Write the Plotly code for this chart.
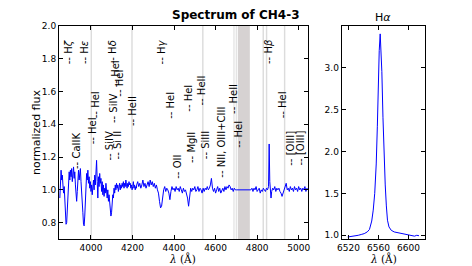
import plotly.graph_objects as go

# ---------------- data ----------------
wave_blue = [3850 + 3 * i for i in range(124)]
flux_blue = [0.95, 1.10, 1.12, 1.06, 1.09, 1.03, 0.98, 1.02, 0.92, 0.85,
             0.79, 0.80, 0.90, 1.02, 1.08, 1.11, 1.06, 1.12, 1.08, 1.13,
             1.05, 1.10, 1.14, 1.07, 1.11, 1.03, 0.96, 0.93, 0.99, 1.08,
             1.12, 1.06, 1.10, 1.13, 1.05, 1.00, 0.94, 0.86, 0.79, 0.78,
             0.84, 0.95, 1.05, 1.10, 1.06, 1.12, 1.04, 1.08, 1.01, 1.05,
             0.99, 1.03, 0.97, 1.02, 1.06, 1.00, 1.09, 1.03, 1.12, 1.18,
             1.05, 0.95, 1.08, 1.02, 1.10, 1.04, 1.07, 0.99, 1.05, 0.97,
             1.03, 0.96, 1.01, 0.98, 1.04, 0.99, 0.95, 1.00, 0.93, 0.97,
             0.90, 0.88, 0.84, 0.86, 0.92, 0.97, 0.95, 1.01, 0.98, 1.03,
             1.00, 1.04, 1.01, 1.03, 0.99, 1.02, 1.04, 1.00, 1.03, 1.01,
             1.04, 1.02, 1.05, 1.01, 1.04, 1.02, 1.06, 1.03, 1.01, 1.04,
             1.02, 1.05, 1.03, 1.04, 1.01, 1.03, 1.00, 1.02, 1.05, 1.01,
             1.03, 1.00, 1.02, 1.01]

wave_red = [4220 + 5 * i for i in range(97)]  # 4220 .. 4700
flux_red = [1.03, 1.05, 1.02, 1.04, 1.01, 1.03, 1.06, 1.02, 1.04, 1.01,
            1.03, 1.05, 1.02, 1.06, 1.03, 1.05, 1.02, 1.04, 1.01, 1.03,
            1.00, 0.98, 0.93, 0.89, 0.90, 0.96, 1.00, 1.02, 0.99, 1.01,
            1.00, 0.98, 0.94, 0.99, 1.02, 1.00, 1.01, 0.99, 1.02, 1.00,
            1.01, 0.99, 1.02, 1.00, 0.98, 1.01, 0.99, 1.00, 0.98, 0.95,
            0.90, 0.97, 1.01, 0.99, 1.01, 1.00, 1.02, 0.99, 1.00, 1.02,
            0.99, 1.01, 1.00, 0.98, 1.01, 0.99, 1.01, 1.00, 1.02, 1.00,
            1.01, 1.03, 1.07, 1.01, 0.99, 1.01, 0.98, 1.00, 1.02, 0.99,
            1.01, 0.98, 1.00, 1.01, 0.99, 1.02, 1.00, 1.02, 1.01, 1.03,
            1.02, 1.00, 1.01, 0.99, 1.01, 1.00, 1.00]

wave_tail = [4770, 4775, 4780, 4785, 4790, 4795, 4800, 4805, 4810, 4815,
             4820, 4825, 4830, 4835, 4840, 4845, 4850, 4855, 4858, 4861,
             4864, 4867, 4870, 4875, 4880, 4885, 4890, 4895, 4900, 4905,
             4910, 4915, 4920, 4925, 4930, 4935, 4940, 4945, 4950, 4955,
             4960, 4965, 4970, 4975, 4980, 4985, 4990, 4995, 5000, 5005,
             5010, 5015, 5020, 5025, 5030, 5035, 5040, 5045]
flux_tail = [1.00, 1.01, 0.99, 1.01, 1.00, 1.02, 0.99, 1.00, 1.01, 0.98,
             1.00, 0.99, 1.01, 1.00, 0.99, 1.01, 1.00, 1.02, 1.28, 1.05,
             0.96, 0.95, 0.99, 1.01, 1.00, 1.02, 0.99, 1.01, 1.00, 1.01,
             0.99, 0.98, 0.96, 0.98, 1.00, 1.01, 1.04, 1.00, 1.01, 0.99,
             1.02, 1.00, 1.01, 0.99, 1.02, 1.00, 1.01, 0.99, 1.02, 1.00,
             1.01, 0.99, 1.01, 1.00, 1.02, 0.99, 1.01, 1.00]

wave_ha = [6519, 6524, 6529, 6533, 6537, 6541, 6545, 6548, 6551, 6553,
           6555, 6557, 6558.5, 6560, 6561, 6562.3, 6563.5, 6564.5, 6566,
           6567.5, 6569, 6570.5, 6572, 6574, 6577, 6581, 6586, 6591, 6596,
           6600, 6604, 6608, 6611, 6614]
flux_ha = [0.98, 0.985, 0.99, 1.00, 1.01, 1.02, 1.04, 1.07, 1.17, 1.30,
           1.50, 1.85, 2.30, 2.90, 3.20, 3.40, 3.20, 2.95, 2.40,
           1.90, 1.60, 1.35, 1.18, 1.10, 1.06, 1.04, 1.03, 1.02, 1.01,
           1.00, 0.995, 0.99, 1.00, 0.995]

# masked regions (wavelength ranges)
mask_lo = [3998, 4194, 4535, 4686, 4697, 4707, 4826, 4842, 4929]
mask_hi = [4005, 4201, 4542, 4691, 4702, 4765, 4833, 4849, 4936]
mask_col = ["#dcdcdc"] * 5 + ["#d6d2d2"] + ["#dcdcdc"] * 3

# line identifications
line_names = ["H<i>ζ</i>", "H<i>ε</i>", "CaIIK", "HeI", "HeI", "SiIV", "H<i>δ</i>",
              "SiIV", "HeI", "Si II", "HeI", "HeII", "H<i>γ</i>", "HeI", "OII",
              "HeI", "MgII", "HeII", "SiIII", "NII, OIII+CIII", "HeII", "HeI",
              "H<i>β</i>", "HeI", "[OIII]", "[OIII]"]
line_wave = [3889, 3970, 3927, 4006, 4026, 4087, 4101,
             4112, 4118, 4128, 4140, 4200, 4340, 4385, 4413,
             4469, 4481, 4531, 4553, 4630, 4686, 4710,
             4858, 4922, 4960, 5007]
line_ypos = [1.76, 1.76, 1.12, 1.27, 1.43, 1.17, 1.76,
             1.40, 1.62, 1.18, 1.56, 1.38, 1.76, 1.43, 1.06,
             1.47, 1.16, 1.51, 1.18, 1.07, 1.46, 1.25,
             1.76, 1.43, 1.14, 1.14]

xticks_main = [4000, 4200, 4400, 4600, 4800, 5000]
yticks_main = [0.8, 1.0, 1.2, 1.4, 1.6, 1.8, 2.0]
xticks_ha = [6520, 6560, 6600]
yticks_ha = [1.0, 1.5, 2.0, 2.5, 3.0]

# ---------------- figure ----------------
wave_main = wave_blue + wave_red + wave_tail
flux_main = flux_blue + flux_red + flux_tail

# page places the figure 8 px in from the window's top-left corner
OFF = 8
W, H = 472 - OFF, 266 - OFF


def px(x):
    return (x - OFF) / W


def py(y):
    return 1 - (y - OFF) / H


fig = go.Figure()
fig.add_trace(go.Scatter(x=wave_main, y=flux_main, mode="lines",
                         line=dict(color="#0000ff", width=1), xaxis="x", yaxis="y",
                         showlegend=False, hoverinfo="skip"))
fig.add_trace(go.Scatter(x=wave_ha, y=flux_ha, mode="lines",
                         line=dict(color="#0000ff", width=1), xaxis="x2", yaxis="y2",
                         showlegend=False, hoverinfo="skip"))

for lo, hi, c in zip(mask_lo, mask_hi, mask_col):
    fig.add_shape(type="rect", xref="x", yref="y domain", x0=lo, x1=hi, y0=0, y1=1,
                  fillcolor=c, line=dict(width=0), layer="below")

for name, w, yv in zip(line_names, line_wave, line_ypos):
    fig.add_annotation(x=w, y=yv, xref="x", yref="y", text="-- " + name,
                       textangle=-90, showarrow=False, xanchor="center", yanchor="bottom",
                       borderpad=0,
                       font=dict(family="DejaVu Sans", size=10, color="black"))

font = dict(family="DejaVu Sans", size=9, color="black")
axis_common = dict(showline=True, linecolor="black", linewidth=1, mirror="ticks",
                   ticks="inside", ticklen=4, tickcolor="black", showgrid=False,
                   zeroline=False, tickfont=font, automargin=False)

fig.update_layout(
    width=W, height=H, margin=dict(l=0, r=0, t=0, b=0, autoexpand=False),
    paper_bgcolor="white", plot_bgcolor="white",
    xaxis=dict(domain=[px(59), px(308)], range=[3846, 5045], tickvals=xticks_main,
               anchor="y", **axis_common),
    yaxis=dict(domain=[py(239), py(26)], range=[0.7, 2.0], tickvals=yticks_main,
               tickformat=".1f", anchor="x", **axis_common),
    xaxis2=dict(domain=[px(341.7), px(425)], range=[6511, 6622], tickvals=xticks_ha,
                anchor="y2", **axis_common),
    yaxis2=dict(domain=[py(239), py(26)], range=[0.956, 3.494], tickvals=yticks_ha,
                tickformat=".1f", anchor="x2", **axis_common),
)

paper_text = dict(xref="paper", yref="paper", showarrow=False, borderpad=0,
                  xanchor="center", yanchor="middle")
fig.add_annotation(x=px(236), y=py(14.5), text="<b>Spectrum of CH4-3</b>",
                   font=dict(family="DejaVu Sans", size=12, color="black"), **paper_text)
fig.add_annotation(x=px(383), y=py(18), text="H<i>α</i>",
                   font=dict(family="DejaVu Sans", size=11, color="black"), **paper_text)
fig.add_annotation(x=px(182), y=py(258), text="<i>λ</i> (Å)",
                   font=dict(family="DejaVu Serif", size=10.5, color="black"), **paper_text)
fig.add_annotation(x=px(383), y=py(258), text="<i>λ</i> (Å)",
                   font=dict(family="DejaVu Serif", size=10.5, color="black"), **paper_text)
fig.add_annotation(x=px(37), y=py(132), text="normalized flux", textangle=-90,
                   font=dict(family="DejaVu Sans", size=11, color="black"), **paper_text)

fig.write_html("out.html")
